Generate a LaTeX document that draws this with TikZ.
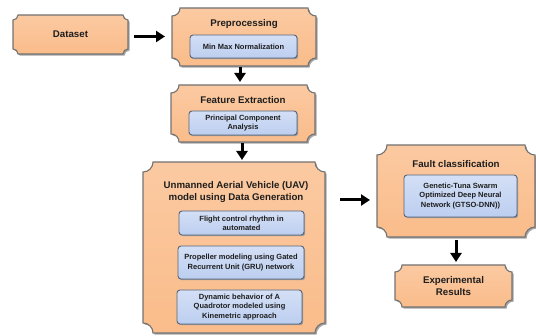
\documentclass[tikz,border=0pt]{standalone}
\usepackage{fontspec}
\setmainfont{Liberation Sans}
\usetikzlibrary{arrows.meta,shadows,calc}
\definecolor{orf}{RGB}{250,188,138}
\definecolor{orb}{RGB}{115,115,115}
\definecolor{blf}{RGB}{188,206,240}
\definecolor{blb}{RGB}{90,100,120}
\definecolor{txt}{RGB}{30,30,30}
\newcommand{\opath}[2]{([yshift=-#2]#1.north west) arc[start angle=270,end angle=360,radius=#2] -- ([xshift=-#2]#1.north east) arc[start angle=180,end angle=270,radius=#2] -- ([yshift=#2]#1.south east) arc[start angle=90,end angle=180,radius=#2] -- ([xshift=#2]#1.south west) arc[start angle=0,end angle=90,radius=#2] -- cycle}
\tikzset{
  oframe/.style={draw=none, inner sep=0pt, outer sep=0pt},
  oshape/.style={draw=orb, line width=1.1pt, top color=orf!80!white, bottom color=orf,
    drop shadow={shadow xshift=1.6pt, shadow yshift=-1.6pt, fill=black!35, opacity=1}},
  innerbox/.style={draw=blb, line width=0.9pt, top color=blf!65!white, bottom color=blf,
    rounded corners=3pt, align=center, text=txt, inner sep=1pt,
    drop shadow={shadow xshift=1.2pt, shadow yshift=-1.2pt, fill=black!40, opacity=1},
    font=\bfseries\fontsize{7.5}{9.3}\selectfont},
  ttl/.style={font=\bfseries\fontsize{9.7}{12}\selectfont, align=center, text=txt, inner sep=0pt},
  arr/.style={-{Triangle[length=9pt,width=11pt]}, line width=3pt, black},
}
\begin{document}
\begin{tikzpicture}[x=1pt,y=1pt]
\useasboundingbox (0,0) rectangle (536,-336);

% Dataset
\node[oframe, minimum width=115, minimum height=39] (dataset) at (70.5,-34.5) {};
\path[oshape] \opath{dataset}{5};
\node[ttl] (datasett) at (dataset) {Dataset};

% Preprocessing
\node[oframe, minimum width=144, minimum height=58] (prep) at (244,-37) {};
\path[oshape] \opath{prep}{8};
\node[ttl] (prept) at (244,-24) {Preprocessing};
\node[innerbox, minimum width=107, minimum height=23] (minmax) at (243.5,-46.5) {Min Max Normalization};

% Feature Extraction
\node[oframe, minimum width=144, minimum height=57] (fe) at (243,-113.5) {};
\path[oshape] \opath{fe}{8};
\node[ttl] (fet) at (243,-100) {Feature Extraction};
\node[innerbox, minimum width=108, minimum height=24] (pca) at (243,-123) {Principal Component\\Analysis};

% UAV
\node[oframe, minimum width=182, minimum height=171] (uav) at (234,-247.5) {};
\path[oshape] \opath{uav}{10};
\node[ttl] (uavt) at (236,-192) {Unmanned Aerial Vehicle (UAV)\\model using Data Generation};
\node[innerbox, minimum width=125, minimum height=24] (flight) at (241.5,-223) {Flight control rhythm in\\automated};
\node[innerbox, minimum width=126, minimum height=33] (prop) at (241,-262.5) {Propeller modeling using Gated\\Recurrent Unit (GRU) network};
\node[innerbox, minimum width=125, minimum height=34] (dyn) at (239.5,-307) {Dynamic behavior of A\\Quadrotor modeled using\\Kinemetric approach};

% Fault classification
\node[oframe, minimum width=158, minimum height=92] (fault) at (456,-191) {};
\path[oshape] \opath{fault}{10};
\node[ttl] (faultt) at (456,-164) {Fault classification};
\node[innerbox, minimum width=113, minimum height=42] (gtso) at (460.5,-196) {Genetic-Tuna Swarm\\Optimized Deep Neural\\Network (GTSO-DNN))};

% Experimental Results
\node[oframe, minimum width=117, minimum height=42] (exp) at (453.5,-286) {};
\path[oshape] \opath{exp}{7};
\node[ttl] (expt) at (exp) {Experimental\\Results};

% Arrows
\coordinate (a1) at (134,-36.5);
\draw[arr, shorten >=7pt] (a1) -- (a1 -| prep.west);
\draw[arr, shorten <=1.5pt, shorten >=3pt] ([xshift=-4pt]prep.south) -- ([xshift=-3pt]fe.north);
\draw[arr, shorten <=1.5pt, shorten >=2pt] ([xshift=-1pt]fe.south) -- ([xshift=-1pt]fe.south |- uav.north);
\coordinate (a4) at (340,-200);
\draw[arr, shorten >=7pt] (a4) -- (a4 -| fault.west);
\draw[arr, shorten <=3pt, shorten >=3pt] (fault.south) -- (fault.south |- exp.north);
\end{tikzpicture}
\end{document}
